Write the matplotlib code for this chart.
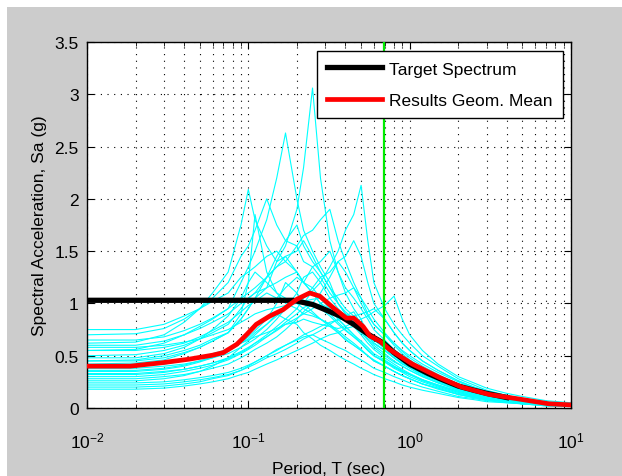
import numpy as np
import matplotlib
matplotlib.use('Agg')
import matplotlib.pyplot as plt
from matplotlib.patches import Rectangle

plt.rcParams['font.family'] = ['Liberation Sans', 'DejaVu Sans']

# Periods at which the spectra are read (sec)
periods = [0.01, 0.02, 0.03, 0.04, 0.05, 0.06, 0.075, 0.09, 0.1, 0.11, 0.13, 0.15,
           0.17, 0.2, 0.22, 0.25, 0.28, 0.32, 0.36, 0.4, 0.45, 0.5, 0.55, 0.6,
           0.7, 0.8, 0.9, 1.0, 1.2, 1.5, 2.0, 2.5, 3.0, 4.0, 5.0, 7.0, 10.0]

# Individual ground motion spectra (g)
records = [
    [0.45, 0.46, 0.50, 0.55, 0.60, 0.66, 0.72, 0.85, 0.95, 1.05, 1.15, 1.40, 1.55, 1.90, 2.30, 3.06, 2.20, 1.60, 1.30, 1.10, 0.95, 0.85, 0.70, 0.62, 0.55, 0.48, 0.42, 0.40, 0.33, 0.27, 0.19, 0.15, 0.12, 0.09, 0.07, 0.04, 0.03],
    [0.55, 0.56, 0.62, 0.70, 0.78, 0.85, 0.95, 1.20, 1.35, 1.50, 1.80, 2.20, 2.63, 2.00, 1.70, 1.50, 1.35, 1.20, 1.00, 0.90, 0.80, 0.72, 0.65, 0.58, 0.50, 0.44, 0.40, 0.36, 0.30, 0.24, 0.17, 0.13, 0.10, 0.07, 0.05, 0.03, 0.02],
    [0.62, 0.63, 0.70, 0.82, 0.95, 1.10, 1.30, 1.75, 2.09, 1.80, 1.55, 1.40, 1.45, 1.30, 1.20, 1.15, 1.05, 0.95, 0.85, 0.78, 0.70, 0.62, 0.55, 0.50, 0.45, 0.40, 0.35, 0.32, 0.27, 0.22, 0.16, 0.12, 0.10, 0.07, 0.05, 0.03, 0.02],
    [0.38, 0.38, 0.40, 0.42, 0.45, 0.48, 0.52, 0.58, 0.62, 0.66, 0.75, 0.85, 0.95, 1.10, 1.25, 1.30, 1.20, 1.35, 1.50, 1.70, 1.85, 2.13, 1.60, 1.20, 0.95, 0.80, 0.70, 0.62, 0.50, 0.40, 0.28, 0.22, 0.17, 0.12, 0.09, 0.05, 0.04],
    [0.70, 0.71, 0.76, 0.85, 0.95, 1.05, 1.20, 1.45, 1.55, 1.70, 2.00, 1.75, 1.60, 1.55, 1.40, 1.35, 1.25, 1.10, 1.00, 0.92, 0.85, 0.75, 0.68, 0.62, 0.55, 0.50, 0.45, 0.40, 0.33, 0.26, 0.18, 0.14, 0.11, 0.08, 0.06, 0.04, 0.03],
    [0.50, 0.51, 0.55, 0.60, 0.66, 0.72, 0.80, 0.95, 1.05, 1.10, 1.25, 1.35, 1.40, 1.55, 1.65, 1.70, 1.80, 1.90, 1.60, 1.40, 1.20, 1.05, 0.90, 0.80, 0.70, 0.60, 0.52, 0.46, 0.38, 0.30, 0.22, 0.17, 0.13, 0.09, 0.07, 0.04, 0.03],
    [0.42, 0.43, 0.46, 0.52, 0.58, 0.64, 0.72, 0.85, 0.95, 1.05, 1.25, 1.45, 1.60, 1.75, 1.55, 1.40, 1.30, 1.15, 1.00, 0.90, 0.82, 0.74, 0.66, 0.60, 0.52, 0.45, 0.40, 0.36, 0.30, 0.24, 0.17, 0.13, 0.10, 0.07, 0.06, 0.03, 0.02],
    [0.33, 0.33, 0.35, 0.37, 0.40, 0.43, 0.47, 0.53, 0.57, 0.62, 0.70, 0.78, 0.85, 0.95, 1.05, 1.15, 1.25, 1.30, 1.40, 1.45, 1.60, 1.45, 1.20, 1.00, 0.85, 0.72, 0.62, 0.55, 0.45, 0.36, 0.26, 0.20, 0.16, 0.11, 0.08, 0.05, 0.03],
    [0.75, 0.75, 0.80, 0.88, 0.95, 1.02, 1.10, 1.25, 1.30, 1.35, 1.45, 1.50, 1.40, 1.30, 1.20, 1.10, 1.00, 0.90, 0.82, 0.75, 0.68, 0.62, 0.55, 0.50, 0.44, 0.38, 0.34, 0.30, 0.25, 0.20, 0.14, 0.11, 0.08, 0.06, 0.04, 0.03, 0.02],
    [0.28, 0.28, 0.30, 0.32, 0.35, 0.38, 0.42, 0.48, 0.52, 0.56, 0.62, 0.68, 0.75, 0.85, 0.92, 1.00, 1.10, 1.25, 1.40, 1.30, 1.15, 1.00, 0.88, 0.80, 0.70, 0.62, 0.55, 0.50, 0.42, 0.34, 0.25, 0.19, 0.15, 0.11, 0.08, 0.05, 0.03],
    [0.60, 0.60, 0.64, 0.70, 0.76, 0.82, 0.90, 1.00, 1.05, 1.10, 1.15, 1.20, 1.25, 1.30, 1.20, 1.10, 1.00, 0.95, 0.85, 0.78, 0.70, 0.64, 0.58, 0.52, 0.46, 0.40, 0.36, 0.32, 0.27, 0.22, 0.16, 0.12, 0.09, 0.07, 0.05, 0.03, 0.02],
    [0.22, 0.22, 0.23, 0.25, 0.27, 0.29, 0.32, 0.36, 0.39, 0.42, 0.48, 0.52, 0.56, 0.62, 0.66, 0.70, 0.74, 0.80, 0.85, 0.90, 0.85, 0.78, 0.70, 0.62, 0.55, 0.48, 0.42, 0.38, 0.31, 0.25, 0.18, 0.14, 0.11, 0.08, 0.06, 0.04, 0.02],
    [0.18, 0.18, 0.19, 0.21, 0.23, 0.25, 0.28, 0.32, 0.34, 0.37, 0.42, 0.46, 0.50, 0.55, 0.58, 0.62, 0.66, 0.70, 0.72, 0.76, 0.78, 0.80, 0.72, 0.65, 0.58, 0.52, 0.46, 0.42, 0.35, 0.28, 0.20, 0.16, 0.13, 0.09, 0.07, 0.04, 0.03],
    [0.30, 0.30, 0.32, 0.35, 0.38, 0.41, 0.46, 0.52, 0.56, 0.60, 0.68, 0.75, 0.82, 0.90, 0.96, 1.00, 0.95, 0.88, 0.80, 0.74, 0.68, 0.62, 0.56, 0.50, 0.44, 0.39, 0.35, 0.32, 0.26, 0.21, 0.15, 0.11, 0.09, 0.06, 0.05, 0.03, 0.02],
    [0.36, 0.36, 0.38, 0.41, 0.45, 0.49, 0.55, 0.62, 0.66, 0.72, 0.80, 0.88, 0.95, 1.05, 1.00, 1.12, 1.20, 1.05, 0.95, 0.88, 0.92, 0.80, 0.70, 0.62, 0.55, 0.48, 0.43, 0.39, 0.32, 0.26, 0.19, 0.15, 0.12, 0.08, 0.06, 0.04, 0.03],
    [0.48, 0.48, 0.52, 0.58, 0.66, 0.75, 0.88, 1.05, 1.20, 1.30, 1.20, 1.10, 1.00, 0.95, 0.90, 0.88, 0.85, 0.80, 0.72, 0.65, 0.60, 0.55, 0.50, 0.45, 0.40, 0.35, 0.31, 0.28, 0.23, 0.18, 0.13, 0.10, 0.08, 0.06, 0.04, 0.03, 0.02],
    [0.40, 0.40, 0.42, 0.45, 0.48, 0.52, 0.56, 0.62, 0.65, 0.68, 0.72, 0.76, 0.80, 0.82, 0.85, 0.82, 0.80, 0.78, 0.76, 0.78, 0.82, 0.85, 0.88, 0.92, 0.98, 1.07, 0.85, 0.70, 0.55, 0.42, 0.30, 0.24, 0.19, 0.14, 0.11, 0.07, 0.05],
    [0.26, 0.26, 0.28, 0.31, 0.35, 0.40, 0.48, 0.58, 0.64, 0.70, 0.80, 0.90, 0.85, 0.80, 0.72, 0.66, 0.60, 0.55, 0.50, 0.46, 0.42, 0.38, 0.35, 0.32, 0.28, 0.25, 0.22, 0.20, 0.17, 0.14, 0.10, 0.08, 0.06, 0.05, 0.04, 0.02, 0.015],
    [0.65, 0.65, 0.68, 0.74, 0.80, 0.86, 0.95, 1.05, 1.10, 1.15, 1.25, 1.35, 1.45, 1.50, 1.60, 1.45, 1.30, 1.15, 1.05, 0.95, 0.88, 0.80, 0.72, 0.65, 0.57, 0.50, 0.44, 0.40, 0.33, 0.27, 0.19, 0.15, 0.12, 0.09, 0.07, 0.04, 0.03],
    [0.32, 0.32, 0.34, 0.37, 0.40, 0.43, 0.48, 0.54, 0.58, 0.62, 0.68, 0.74, 0.80, 0.86, 0.90, 0.95, 1.00, 1.05, 1.08, 1.10, 1.15, 1.05, 0.95, 0.85, 0.72, 0.62, 0.54, 0.48, 0.40, 0.32, 0.23, 0.18, 0.14, 0.10, 0.08, 0.05, 0.03],
    [0.20, 0.20, 0.21, 0.23, 0.25, 0.28, 0.31, 0.36, 0.40, 0.44, 0.50, 0.56, 0.60, 0.65, 0.68, 0.70, 0.66, 0.62, 0.58, 0.55, 0.50, 0.46, 0.42, 0.38, 0.34, 0.30, 0.27, 0.24, 0.20, 0.16, 0.11, 0.09, 0.07, 0.05, 0.04, 0.02, 0.015],
    [0.55, 0.55, 0.58, 0.62, 0.68, 0.74, 0.82, 0.92, 0.98, 1.02, 1.10, 1.05, 1.15, 1.25, 1.20, 1.35, 1.40, 1.50, 1.30, 1.15, 1.05, 0.95, 0.85, 0.75, 0.65, 0.56, 0.50, 0.45, 0.37, 0.30, 0.21, 0.16, 0.13, 0.09, 0.07, 0.04, 0.03],
    [0.24, 0.24, 0.25, 0.27, 0.29, 0.31, 0.34, 0.38, 0.41, 0.44, 0.50, 0.55, 0.60, 0.66, 0.70, 0.74, 0.78, 0.82, 0.84, 0.86, 0.88, 0.90, 0.92, 0.95, 0.85, 0.72, 0.62, 0.55, 0.45, 0.36, 0.26, 0.20, 0.16, 0.12, 0.09, 0.06, 0.04],
    [0.45, 0.45, 0.48, 0.53, 0.58, 0.64, 0.72, 0.90, 1.20, 1.85, 1.30, 1.10, 1.05, 1.00, 0.95, 0.90, 0.85, 0.80, 0.74, 0.68, 0.62, 0.56, 0.50, 0.46, 0.40, 0.35, 0.31, 0.28, 0.23, 0.19, 0.13, 0.10, 0.08, 0.06, 0.04, 0.03, 0.02],
    [0.35, 0.35, 0.37, 0.40, 0.44, 0.48, 0.54, 0.62, 0.68, 0.74, 0.85, 1.00, 1.20, 1.10, 1.00, 0.92, 0.85, 0.78, 0.72, 0.66, 0.60, 0.55, 0.50, 0.45, 0.40, 0.35, 0.31, 0.28, 0.23, 0.19, 0.13, 0.10, 0.08, 0.06, 0.05, 0.03, 0.02],
    [0.58, 0.58, 0.60, 0.63, 0.66, 0.70, 0.75, 0.82, 0.86, 0.90, 0.94, 0.96, 0.98, 1.00, 1.02, 1.04, 1.05, 1.00, 0.92, 0.85, 0.78, 0.70, 0.62, 0.56, 0.48, 0.42, 0.37, 0.33, 0.27, 0.21, 0.15, 0.11, 0.09, 0.06, 0.05, 0.03, 0.02],
]

# Target spectrum (black)
target_T = [0.01, 0.05, 0.1, 0.15, 0.19, 0.25, 0.3, 0.37, 0.45, 0.56, 0.69, 0.8, 1.0, 1.3, 1.6, 2.0, 2.5, 3.0, 4.0]
target_sa = [1.03, 1.03, 1.03, 1.03, 1.03, 0.99, 0.94, 0.88, 0.80, 0.70, 0.62, 0.53, 0.42, 0.33, 0.27, 0.21, 0.17, 0.14, 0.10]

# Geometric mean of the results (red)
mean_T = [0.01, 0.0185, 0.03, 0.043, 0.06, 0.07, 0.085, 0.098, 0.112, 0.136, 0.164, 0.181,
          0.2, 0.24, 0.277, 0.335, 0.405, 0.45, 0.514, 0.566, 0.652, 0.75, 1.04, 1.54,
          2.1, 3.1, 4.8, 7.3, 10.0]
mean_sa = [0.40, 0.40, 0.435, 0.467, 0.505, 0.53, 0.61, 0.705, 0.80, 0.88, 0.94, 0.99,
           1.04, 1.10, 1.07, 0.96, 0.86, 0.86, 0.78, 0.69, 0.64, 0.56, 0.42, 0.29,
           0.20, 0.13, 0.085, 0.04, 0.03]

period_marker = 0.69

fig = plt.figure(figsize=(6.22, 4.77), dpi=100, facecolor='white')
# MATLAB-style grey figure area (thin white strip at left and top)
fig.patches.append(Rectangle((7 / 622, 0), 1, 1 - 8 / 477, transform=fig.transFigure,
                             facecolor='#cccccc', edgecolor='none', zorder=-10))

ax = fig.add_axes([87 / 622, 68 / 477, 484 / 622, 366 / 477])
ax.set_facecolor('white')

for rec in records:
    ax.plot(periods, rec, color='cyan', lw=0.8, zorder=2)

ax.plot(target_T, target_sa, color='black', lw=3.8, zorder=3, label='Target Spectrum')
ax.plot(mean_T, mean_sa, color='red', lw=3.4, zorder=4, label='Results Geom. Mean')
ax.axvline(period_marker, color='#00ee00', lw=1.6, zorder=5)

ax.set_xscale('log')
ax.set_xlim(0.01, 10)
ax.set_ylim(0, 3.5)
ax.set_yticks(np.arange(0, 3.51, 0.5))
ax.set_yticklabels(['0', '0.5', '1', '1.5', '2', '2.5', '3', '3.5'])

ax.grid(True, which='major', color='black', linestyle=(0, (1, 5)), lw=0.8)
ax.grid(True, which='minor', axis='x', color='black', linestyle=(0, (1, 5)), lw=0.8)
ax.tick_params(which='both', direction='in', top=True, right=True, labelsize=12.5)
ax.tick_params(which='major', length=5)
ax.tick_params(which='minor', length=3)
ax.tick_params(axis='x', pad=16)
ax.tick_params(axis='y', pad=6)
for s in ax.spines.values():
    s.set_linewidth(1.0)

ax.set_xlabel('Period, T (sec)', fontsize=12.5, labelpad=8)
ax.set_ylabel('Spectral Acceleration, Sa (g)', fontsize=12.5, labelpad=5)

leg = ax.legend(loc='upper right', bbox_to_anchor=(1 - 8 / 484, 1 - 9 / 366), borderaxespad=0,
                fontsize=12.5, fancybox=False, edgecolor='black', framealpha=1,
                handlelength=3.15, handletextpad=0.4, borderpad=0.6, labelspacing=0.92)
leg.get_frame().set_linewidth(1.0)

fig.savefig('out.png', dpi=100, facecolor=fig.get_facecolor())
